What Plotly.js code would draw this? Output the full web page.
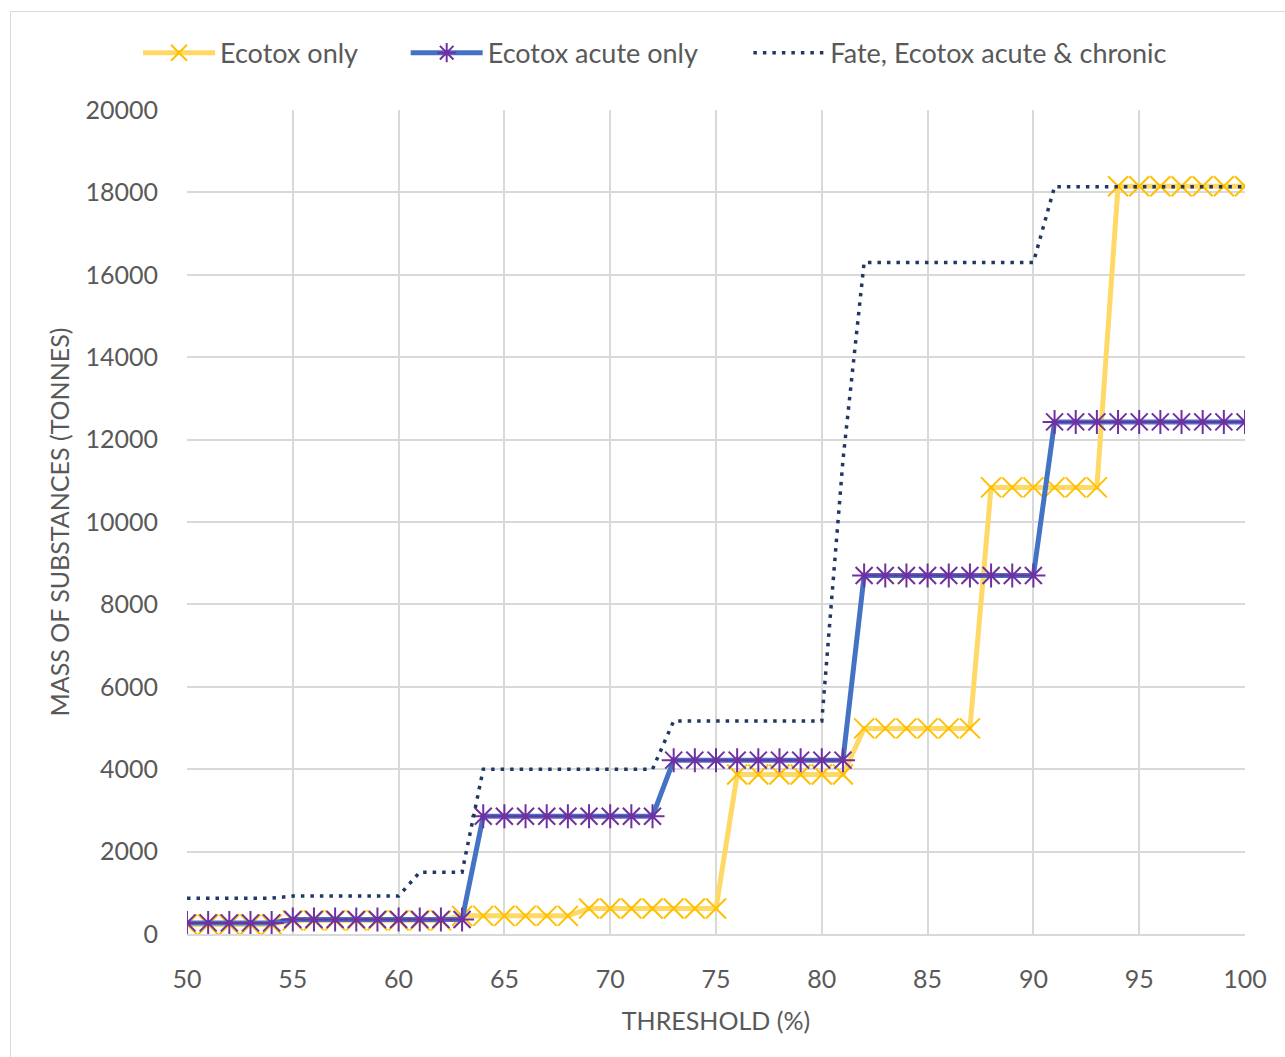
<!DOCTYPE html>
<html>
<head>
<meta charset="utf-8">
<script src="https://cdn.plot.ly/plotly-3.0.1.min.js"></script>
<style>
  html, body { margin: 0; padding: 0; background: #ffffff; overflow: hidden; }
  #chart { position: absolute; left: 0; top: 0; width: 1285px; height: 1057px; }
  #frame { position: absolute; left: 10px; top: 11px; width: 1300px; height: 1070px;
           border: 1.5px solid #d9d9d9; pointer-events: none; }
</style>
</head>
<body>
<div id="chart"></div>
<div id="frame"></div>
<script>
// Threshold values (%)
const thresholds = [50, 51, 52, 53, 54, 55, 56, 57, 58, 59,
                    60, 61, 62, 63, 64, 65, 66, 67, 68, 69,
                    70, 71, 72, 73, 74, 75, 76, 77, 78, 79,
                    80, 81, 82, 83, 84, 85, 86, 87, 88, 89,
                    90, 91, 92, 93, 94, 95, 96, 97, 98, 99, 100];

// Mass of substances (tonnes) per threshold
const ecotoxOnly = [230, 230, 230, 230, 230, 330, 330, 330, 330, 330,
                    330, 330, 330, 440, 440, 440, 440, 440, 440, 620,
                    620, 620, 620, 620, 620, 620, 3870, 3870, 3870, 3870,
                    3870, 3870, 4990, 4990, 4990, 4990, 4990, 4990, 10840, 10840,
                    10840, 10840, 10840, 10840, 18150, 18150, 18150, 18150, 18150, 18150, 18150];

const ecotoxAcuteOnly = [270, 270, 270, 270, 270, 350, 350, 350, 350, 350,
                         350, 350, 350, 350, 2860, 2860, 2860, 2860, 2860, 2860,
                         2860, 2860, 2860, 4220, 4220, 4220, 4220, 4220, 4220, 4220,
                         4220, 4220, 8700, 8700, 8700, 8700, 8700, 8700, 8700, 8700,
                         8700, 12430, 12430, 12430, 12430, 12430, 12430, 12430, 12430, 12430, 12430];

const fateEcotoxAcuteChronic = [870, 870, 870, 870, 870, 920, 920, 920, 920, 920,
                                920, 1500, 1500, 1500, 4000, 4000, 4000, 4000, 4000, 4000,
                                4000, 4000, 4000, 5170, 5170, 5170, 5170, 5170, 5170, 5170,
                                5170, 11500, 16300, 16300, 16300, 16300, 16300, 16300, 16300, 16300,
                                16300, 18140, 18140, 18140, 18140, 18140, 18140, 18140, 18140, 18140, 18140];

const seriesNames = ['Ecotox only', 'Ecotox acute only', 'Fate, Ecotox acute & chronic'];

const FONT = 'Lato, "Open Sans", sans-serif';
const TEXT = '#595959';
const GRID = '#d9d9d9';

const traces = [
  {
    x: thresholds, y: ecotoxOnly, name: seriesNames[0], legend: 'legend',
    type: 'scatter', mode: 'lines+markers',
    line: { color: '#FFD966', width: 5 },
    marker: { symbol: 'x-thin-open', size: 20, color: '#FFC000',
              line: { color: '#FFC000', width: 2 } }
  },
  {
    x: thresholds, y: ecotoxAcuteOnly, name: seriesNames[1], legend: 'legend2',
    type: 'scatter', mode: 'lines+markers',
    line: { color: '#4472C4', width: 5 },
    marker: { symbol: 'asterisk-open', size: 20, color: '#7030A0',
              line: { color: '#7030A0', width: 2 } }
  },
  {
    x: thresholds, y: fateEcotoxAcuteChronic, name: seriesNames[2], legend: 'legend3',
    type: 'scatter', mode: 'lines',
    line: { color: '#203864', width: 3.5, dash: '3.5px,6px' }
  }
];

// One legend box per series so each entry sits at its own spot along the top
function legendBox(xPos) {
  return {
    orientation: 'h', x: xPos, xanchor: 'left', y: 1.069, yanchor: 'middle',
    font: { family: FONT, color: TEXT, size: 27 },
    itemwidth: 72, bgcolor: 'rgba(0,0,0,0)', borderwidth: 0
  };
}

const layout = {
  width: 1285, height: 1057,
  paper_bgcolor: 'rgba(0,0,0,0)', plot_bgcolor: '#ffffff',
  margin: { l: 187, r: 40, t: 110, b: 123 },
  font: { family: FONT, color: TEXT, size: 25 },
  showlegend: true,
  legend: legendBox(-0.0463),
  legend2: legendBox(0.2067),
  legend3: legendBox(0.5306),
  xaxis: {
    range: [50, 100], dtick: 5, tick0: 50,
    showgrid: true, gridcolor: GRID, gridwidth: 2,
    showline: true, linecolor: GRID, linewidth: 2,
    zeroline: false, ticks: '', ticklabelstandoff: 22,
    tickfont: { family: FONT, color: TEXT, size: 25 },
    title: { text: 'THRESHOLD (%)', standoff: 20,
             font: { family: FONT, color: TEXT, size: 25 } },
    automargin: false
  },
  yaxis: {
    range: [0, 20000], dtick: 2000, tick0: 0, tickformat: 'd',
    showgrid: true, gridcolor: GRID, gridwidth: 2,
    showline: false, zeroline: false, ticks: '', ticklabelstandoff: 28,
    tickfont: { family: FONT, color: TEXT, size: 25 },
    title: { text: 'MASS OF SUBSTANCES (TONNES)', standoff: 8,
             font: { family: FONT, color: TEXT, size: 25 } },
    automargin: false
  }
};

Plotly.newPlot('chart', traces, layout, { displayModeBar: false, staticPlot: true });
</script>
</body>
</html>
